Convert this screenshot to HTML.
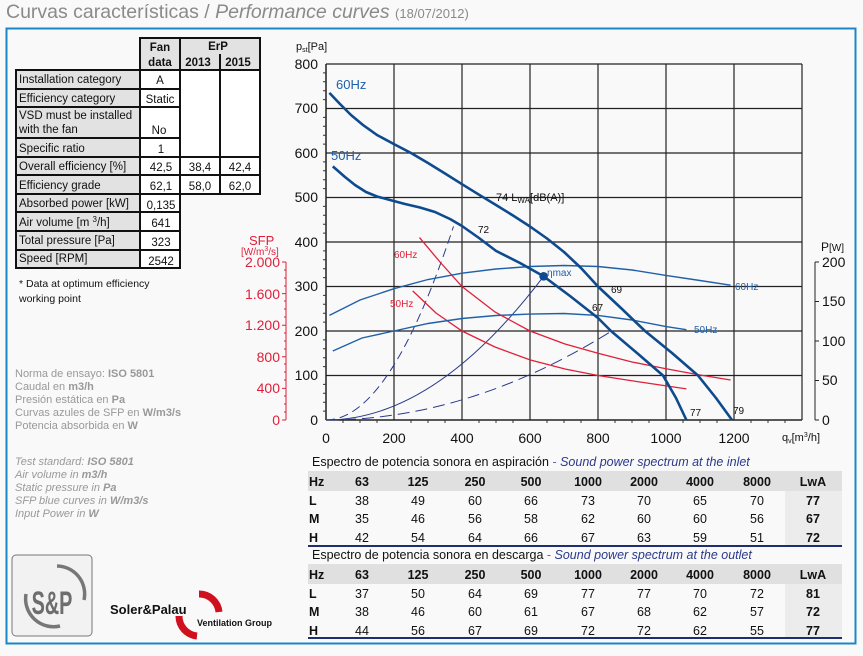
<!DOCTYPE html>
<html><head><meta charset="utf-8"><style>
html,body{margin:0;padding:0;background:#f9f9f9;}
svg{display:block;font-family:"Liberation Sans",Arial,sans-serif;}
</style></head><body>
<svg width="863" height="656" viewBox="0 0 863 656" xmlns="http://www.w3.org/2000/svg">
<rect width="863" height="656" fill="#f9f9f9"/>
<text x="6" y="18" font-size="19.5" fill="#8a8a8a">Curvas características / <tspan font-style="italic">Performance curves</tspan> <tspan font-size="13">(18/07/2012)</tspan></text>
<rect x="6.5" y="28.5" width="849" height="615" fill="none" stroke="#1a86c8" stroke-width="2"/>

<!-- left table -->
<g font-size="11.5" fill="#111">
<rect x="140" y="38" width="120" height="32" fill="#e2e2e2"/>
<rect x="16" y="70" width="124" height="198" fill="#e2e2e2"/>
<rect x="140" y="70" width="40" height="198" fill="#fff"/>
<rect x="180" y="70" width="80" height="124" fill="#fff"/>
<g stroke="#111" stroke-width="2" fill="none">
<rect x="140" y="38" width="120" height="156"/>
<rect x="16" y="70" width="164" height="198"/>
<line x1="180" y1="38" x2="180" y2="194"/>
<line x1="220" y1="54" x2="220" y2="194"/>
<line x1="140" y1="70" x2="260" y2="70"/>
<line x1="140" y1="70" x2="140" y2="268"/>
<line x1="16" y1="89" x2="180" y2="89"/>
<line x1="16" y1="107" x2="180" y2="107"/>
<line x1="16" y1="138" x2="180" y2="138"/>
<line x1="16" y1="157" x2="260" y2="157"/>
<line x1="16" y1="175" x2="260" y2="175"/>
<line x1="16" y1="194" x2="260" y2="194"/>
<line x1="16" y1="212" x2="180" y2="212"/>
<line x1="16" y1="231" x2="180" y2="231"/>
<line x1="16" y1="250" x2="180" y2="250"/>
</g>
<g font-weight="bold" text-anchor="middle">
<text x="160" y="51">Fan</text><text x="160" y="66">data</text>
<text x="218" y="50">ErP</text><text x="198" y="66">2013</text><text x="238" y="66">2015</text>
</g>
<text x="19" y="83">Installation category</text>
<text x="19" y="102">Efficiency category</text>
<text x="19" y="119">VSD must be installed</text>
<text x="19" y="133">with the fan</text>
<text x="19" y="152">Specific ratio</text>
<text x="19" y="170">Overall efficiency [%]</text>
<text x="19" y="189">Efficiency grade</text>
<text x="19" y="207">Absorbed power [kW]</text>
<text x="19" y="226">Air volume [m <tspan dy="-4" font-size="8">3</tspan><tspan dy="4">/h]</tspan></text>
<text x="19" y="244">Total pressure [Pa]</text>
<text x="19" y="262">Speed [RPM]</text>
<g text-anchor="middle">
<text x="160" y="84">A</text><text x="160" y="103">Static</text><text x="159" y="134">No</text>
<text x="161" y="153">1</text><text x="161" y="171">42,5</text><text x="161" y="190">62,1</text>
<text x="161" y="209">0,135</text><text x="161" y="227">641</text><text x="161" y="246">323</text><text x="161" y="265">2542</text>
<text x="200" y="171">38,4</text><text x="240" y="171">42,4</text>
<text x="200" y="190">58,0</text><text x="240" y="190">62,0</text>
</g>
<text x="19" y="287" font-size="10.5">* Data at optimum efficiency</text>
<text x="19" y="302" font-size="10.5">working point</text>
</g>

<!-- notes -->
<g font-size="11" fill="#999">
<text x="15" y="377">Norma de ensayo: <tspan font-weight="bold">ISO 5801</tspan></text>
<text x="15" y="390">Caudal en <tspan font-weight="bold">m3/h</tspan></text>
<text x="15" y="403">Presión estática en <tspan font-weight="bold">Pa</tspan></text>
<text x="15" y="416">Curvas azules de SFP en <tspan font-weight="bold">W/m3/s</tspan></text>
<text x="15" y="429">Potencia absorbida en <tspan font-weight="bold">W</tspan></text>
<g font-style="italic">
<text x="15" y="465">Test standard: <tspan font-weight="bold">ISO 5801</tspan></text>
<text x="15" y="478">Air volume in <tspan font-weight="bold">m3/h</tspan></text>
<text x="15" y="491">Static pressure in <tspan font-weight="bold">Pa</tspan></text>
<text x="15" y="504">SFP blue curves in <tspan font-weight="bold">W/m3/s</tspan></text>
<text x="15" y="517">Input Power in <tspan font-weight="bold">W</tspan></text>
</g></g>

<!-- logo -->
<rect x="12" y="555" width="80" height="81" rx="4" fill="#f2f2f2" stroke="#777" stroke-width="1"/>
<path d="M26 594 A28 28 0 0 0 60 626" fill="none" stroke="#777" stroke-width="3.5"/>
<path d="M57 566 A28 28 0 0 1 84 600" fill="none" stroke="#777" stroke-width="3.5"/>
<text x="0" y="0" font-size="32" font-weight="bold" fill="#6d6d6d" text-anchor="middle" transform="translate(52,614) scale(0.62,1)">S&amp;P</text>
<path d="M199 594 A20 20 0 0 1 219 612" fill="none" stroke="#d0101e" stroke-width="7"/>
<path d="M179 616 A20 20 0 0 0 197 636" fill="none" stroke="#d0101e" stroke-width="7"/>
<text x="110" y="614" font-size="13" font-weight="bold" fill="#111">Soler&amp;Palau</text>
<text x="197" y="626" font-size="9" font-weight="bold" fill="#111">Ventilation Group</text>

<!-- chart grid -->
<g stroke="#222" stroke-width="1.2">
<line x1="326" y1="64" x2="802" y2="64"/>
<line x1="326" y1="108.5" x2="802" y2="108.5"/>
<line x1="326" y1="153" x2="802" y2="153"/>
<line x1="326" y1="197.5" x2="802" y2="197.5"/>
<line x1="326" y1="242" x2="802" y2="242"/>
<line x1="326" y1="286.5" x2="802" y2="286.5"/>
<line x1="326" y1="331" x2="802" y2="331"/>
<line x1="326" y1="375.5" x2="802" y2="375.5"/>
<line x1="394" y1="64" x2="394" y2="420"/>
<line x1="462" y1="64" x2="462" y2="420"/>
<line x1="530" y1="64" x2="530" y2="420"/>
<line x1="598" y1="64" x2="598" y2="420"/>
<line x1="666" y1="64" x2="666" y2="420"/>
<line x1="734" y1="64" x2="734" y2="420"/>
<line x1="802" y1="64" x2="802" y2="420"/>
<line x1="326" y1="420" x2="802" y2="420" stroke-width="1.5"/>
<line x1="326" y1="64" x2="326" y2="420" stroke-width="1.5"/>
</g>
<g stroke="#333" stroke-width="1">
<path d="M323 72.9h3M323 81.8h3M323 90.7h3M323 99.6h3M323 117.4h3M323 126.3h3M323 135.2h3M323 144.1h3M323 161.9h3M323 170.8h3M323 179.7h3M323 188.6h3M323 206.4h3M323 215.3h3M323 224.2h3M323 233.1h3M323 250.9h3M323 259.8h3M323 268.7h3M323 277.6h3M323 295.4h3M323 304.3h3M323 313.2h3M323 322.1h3M323 339.9h3M323 348.8h3M323 357.7h3M323 366.6h3M323 384.4h3M323 393.3h3M323 402.2h3M323 411.1h3"/>
<path d="M343 420v3M360 420v3M377 420v3M411 420v3M428 420v3M445 420v3M479 420v3M496 420v3M513 420v3M547 420v3M564 420v3M581 420v3M615 420v3M632 420v3M649 420v3M683 420v3M700 420v3M717 420v3M751 420v3M768 420v3M785 420v3"/>
</g>
<g font-size="14" fill="#111" text-anchor="end">
<text x="318" y="69">800</text><text x="318" y="113">700</text><text x="318" y="158">600</text><text x="318" y="202">500</text>
<text x="318" y="247">400</text><text x="318" y="291">300</text><text x="318" y="336">200</text><text x="318" y="380">100</text><text x="318" y="425">0</text>
</g>
<g font-size="14" fill="#111" text-anchor="middle">
<text x="326" y="443">0</text><text x="394" y="443">200</text><text x="462" y="443">400</text><text x="530" y="443">600</text>
<text x="598" y="443">800</text><text x="666" y="443">1000</text><text x="734" y="443">1200</text>
</g>
<text x="296" y="50" font-size="11" fill="#111">p<tspan font-size="7" dy="2">st</tspan><tspan dy="-2">[Pa]</tspan></text>
<text x="782" y="441" font-size="11" fill="#111">q<tspan font-size="7" dy="2">v</tspan><tspan dy="-2">[m</tspan><tspan dy="-4" font-size="7">3</tspan><tspan dy="4">/h]</tspan></text>

<!-- SFP axis -->
<g stroke="#e0203a" stroke-width="1">
<line x1="286" y1="262" x2="286" y2="420"/>
<path d="M282 262h4M282 293.6h4M282 325.2h4M282 356.8h4M282 388.4h4M282 420h4"/>
<path d="M284 270h2M284 278h2M284 286h2M284 301h2M284 309h2M284 317h2M284 333h2M284 341h2M284 349h2M284 364h2M284 372h2M284 380h2M284 396h2M284 404h2M284 412h2"/>
</g>
<g font-size="14" fill="#e0203a" text-anchor="end">
<text x="280" y="267">2.000</text><text x="280" y="299">1.600</text><text x="280" y="330">1.200</text>
<text x="280" y="362">800</text><text x="280" y="393">400</text><text x="280" y="425">0</text>
</g>
<text x="249" y="245" font-size="13" fill="#e0203a">SFP</text>
<text x="241" y="255" font-size="10" fill="#e0203a">[W/m<tspan dy="-4" font-size="7">3</tspan><tspan dy="4">/s]</tspan></text>

<!-- P axis -->
<g stroke="#222" stroke-width="1">
<line x1="815" y1="262" x2="815" y2="420"/>
<path d="M815 262h4M815 301.5h4M815 341h4M815 380.5h4M815 420h4"/>
</g>
<g font-size="14" fill="#111">
<text x="822" y="267">200</text><text x="822" y="306">150</text><text x="822" y="346">100</text><text x="822" y="385">50</text><text x="822" y="425">0</text>
</g>
<text x="821" y="251" font-size="12" fill="#111">P<tspan font-size="10">[W]</tspan></text>

<!-- system curves -->
<g fill="none" stroke="#2a3a8c" stroke-width="1">
<path d="M326 420 Q389.75 420 453.5 226.4" stroke-dasharray="9,5"/>
<path d="M326 420 Q434.8 420 543.6 276.3"/>
<path d="M326 420 Q468.8 420 611.6 331" stroke-dasharray="12,6"/>
</g>
<!-- red SFP curves -->
<g fill="none" stroke="#e0203a" stroke-width="1.3">
<polyline points="419.5,237.6 440,262 462,286.5 495,312 530,331 565,344 598,353.3 632,362 666,368.8 700,375 730.6,380"/>
<polyline points="412.7,290.9 436,313 462,331 495,347 530,359.9 565,369 598,375.5 640,382 686.4,388.9"/>
</g>
<!-- power curves -->
<g fill="none" stroke="#2060a8" stroke-width="1.4">
<polyline points="329.4,315.4 360,300 394,288.7 428,279.5 462,273.2 496,269 530,266.5 564,265.5 598,266.5 632,270 666,275.4 700,280.5 730.6,285.2"/>
<polyline points="332.8,351 362,338 394,331 428,323.5 462,318.5 496,315.5 530,314.1 564,313.5 598,315.4 632,320 666,326.6 686.4,329.7"/>
</g>
<!-- pressure curves -->
<g fill="none" stroke="#0e4a8e" stroke-width="2.6" stroke-linejoin="round">
<polyline points="329.4,92.9 340,104 351,115 363,125 377,135 394,144.1 411,153 428,163 445,173.5 462,184.2 479,194.7 496,205 513,215.5 530,226.5 547,238.5 564,252 581,268 598,286.5 622,309 645,331 672,353 698,375.5 716,398 732,420"/>
<polyline points="332.8,166.4 345,177 355,185 366,192 377,196.5 390,200 405,204 420,207.5 435,212 450,219 462,226 479,238 496,250.9 520,263 543.6,276.3 570,296 598,318 611,331 637,353 663,375.5 676,398 686.4,420"/>
</g>
<circle cx="543.6" cy="276.3" r="4.3" fill="#0e4a8e"/>

<!-- labels -->
<g fill="#2060a8">
<text x="336" y="89" font-size="13">60Hz</text>
<text x="331" y="160" font-size="13">50Hz</text>
<text x="735" y="290" font-size="10">60Hz</text>
<text x="694" y="333" font-size="10">50Hz</text>
<text x="547" y="276" font-size="10">η<tspan dy="0">max</tspan></text>
</g>
<g fill="#e0203a" font-size="10">
<text x="394" y="258">60Hz</text>
<text x="390" y="307">50Hz</text>
</g>
<g fill="#111" font-size="10">
<text x="496" y="201" font-size="11">74 L<tspan font-size="8" dy="2">WA</tspan><tspan dy="-2">[dB(A)]</tspan></text>
<text x="478" y="233">72</text>
<text x="611" y="293">69</text>
<text x="592" y="311">67</text>
<text x="690" y="416">77</text>
<text x="733" y="414">79</text>
</g>

<!-- sound tables -->
<g font-size="12.5" fill="#111">
<text x="312" y="466">Espectro de potencia sonora en aspiración<tspan fill="#5a6aa8"> - </tspan><tspan font-style="italic" fill="#2a3a8c">Sound power spectrum at the inlet</tspan></text>
<rect x="308" y="471" width="534" height="20" fill="#e0e0e0"/>
<rect x="785" y="491" width="57" height="54" fill="#ececec"/>
<line x1="308" y1="546" x2="842" y2="546" stroke="#1e2e70" stroke-width="2"/>
<text x="312" y="559">Espectro de potencia sonora en descarga<tspan fill="#5a6aa8"> - </tspan><tspan font-style="italic" fill="#2a3a8c">Sound power spectrum at the outlet</tspan></text>
<rect x="308" y="564" width="534" height="20" fill="#e0e0e0"/>
<rect x="785" y="584" width="57" height="53" fill="#ececec"/>
<line x1="308" y1="638" x2="842" y2="638" stroke="#1e2e70" stroke-width="2"/>
<g font-weight="bold"><text x="309" y="486">Hz</text><text x="309" y="505">L</text><text x="309" y="523">M</text><text x="309" y="542">H</text>
<text x="309" y="579">Hz</text><text x="309" y="598">L</text><text x="309" y="616">M</text><text x="309" y="635">H</text></g>
<g text-anchor="middle">
<g font-weight="bold">
<text x="362" y="486">63</text><text x="418" y="486">125</text><text x="475" y="486">250</text><text x="531" y="486">500</text><text x="588" y="486">1000</text><text x="644" y="486">2000</text><text x="700" y="486">4000</text><text x="757" y="486">8000</text><text x="813" y="486">LwA</text>
<text x="362" y="579">63</text><text x="418" y="579">125</text><text x="475" y="579">250</text><text x="531" y="579">500</text><text x="588" y="579">1000</text><text x="644" y="579">2000</text><text x="700" y="579">4000</text><text x="757" y="579">8000</text><text x="813" y="579">LwA</text>
<text x="813" y="505">77</text><text x="813" y="523">67</text><text x="813" y="542">72</text>
<text x="813" y="598">81</text><text x="813" y="616">72</text><text x="813" y="635">77</text>
</g>
<text x="362" y="505">38</text><text x="418" y="505">49</text><text x="475" y="505">60</text><text x="531" y="505">66</text><text x="588" y="505">73</text><text x="644" y="505">70</text><text x="700" y="505">65</text><text x="757" y="505">70</text>
<text x="362" y="523">35</text><text x="418" y="523">46</text><text x="475" y="523">56</text><text x="531" y="523">58</text><text x="588" y="523">62</text><text x="644" y="523">60</text><text x="700" y="523">60</text><text x="757" y="523">56</text>
<text x="362" y="542">42</text><text x="418" y="542">54</text><text x="475" y="542">64</text><text x="531" y="542">66</text><text x="588" y="542">67</text><text x="644" y="542">63</text><text x="700" y="542">59</text><text x="757" y="542">51</text>
<text x="362" y="598">37</text><text x="418" y="598">50</text><text x="475" y="598">64</text><text x="531" y="598">69</text><text x="588" y="598">77</text><text x="644" y="598">77</text><text x="700" y="598">70</text><text x="757" y="598">72</text>
<text x="362" y="616">38</text><text x="418" y="616">46</text><text x="475" y="616">60</text><text x="531" y="616">61</text><text x="588" y="616">67</text><text x="644" y="616">68</text><text x="700" y="616">62</text><text x="757" y="616">57</text>
<text x="362" y="635">44</text><text x="418" y="635">56</text><text x="475" y="635">67</text><text x="531" y="635">69</text><text x="588" y="635">72</text><text x="644" y="635">72</text><text x="700" y="635">62</text><text x="757" y="635">55</text>
</g></g>
</svg>
</body></html>
